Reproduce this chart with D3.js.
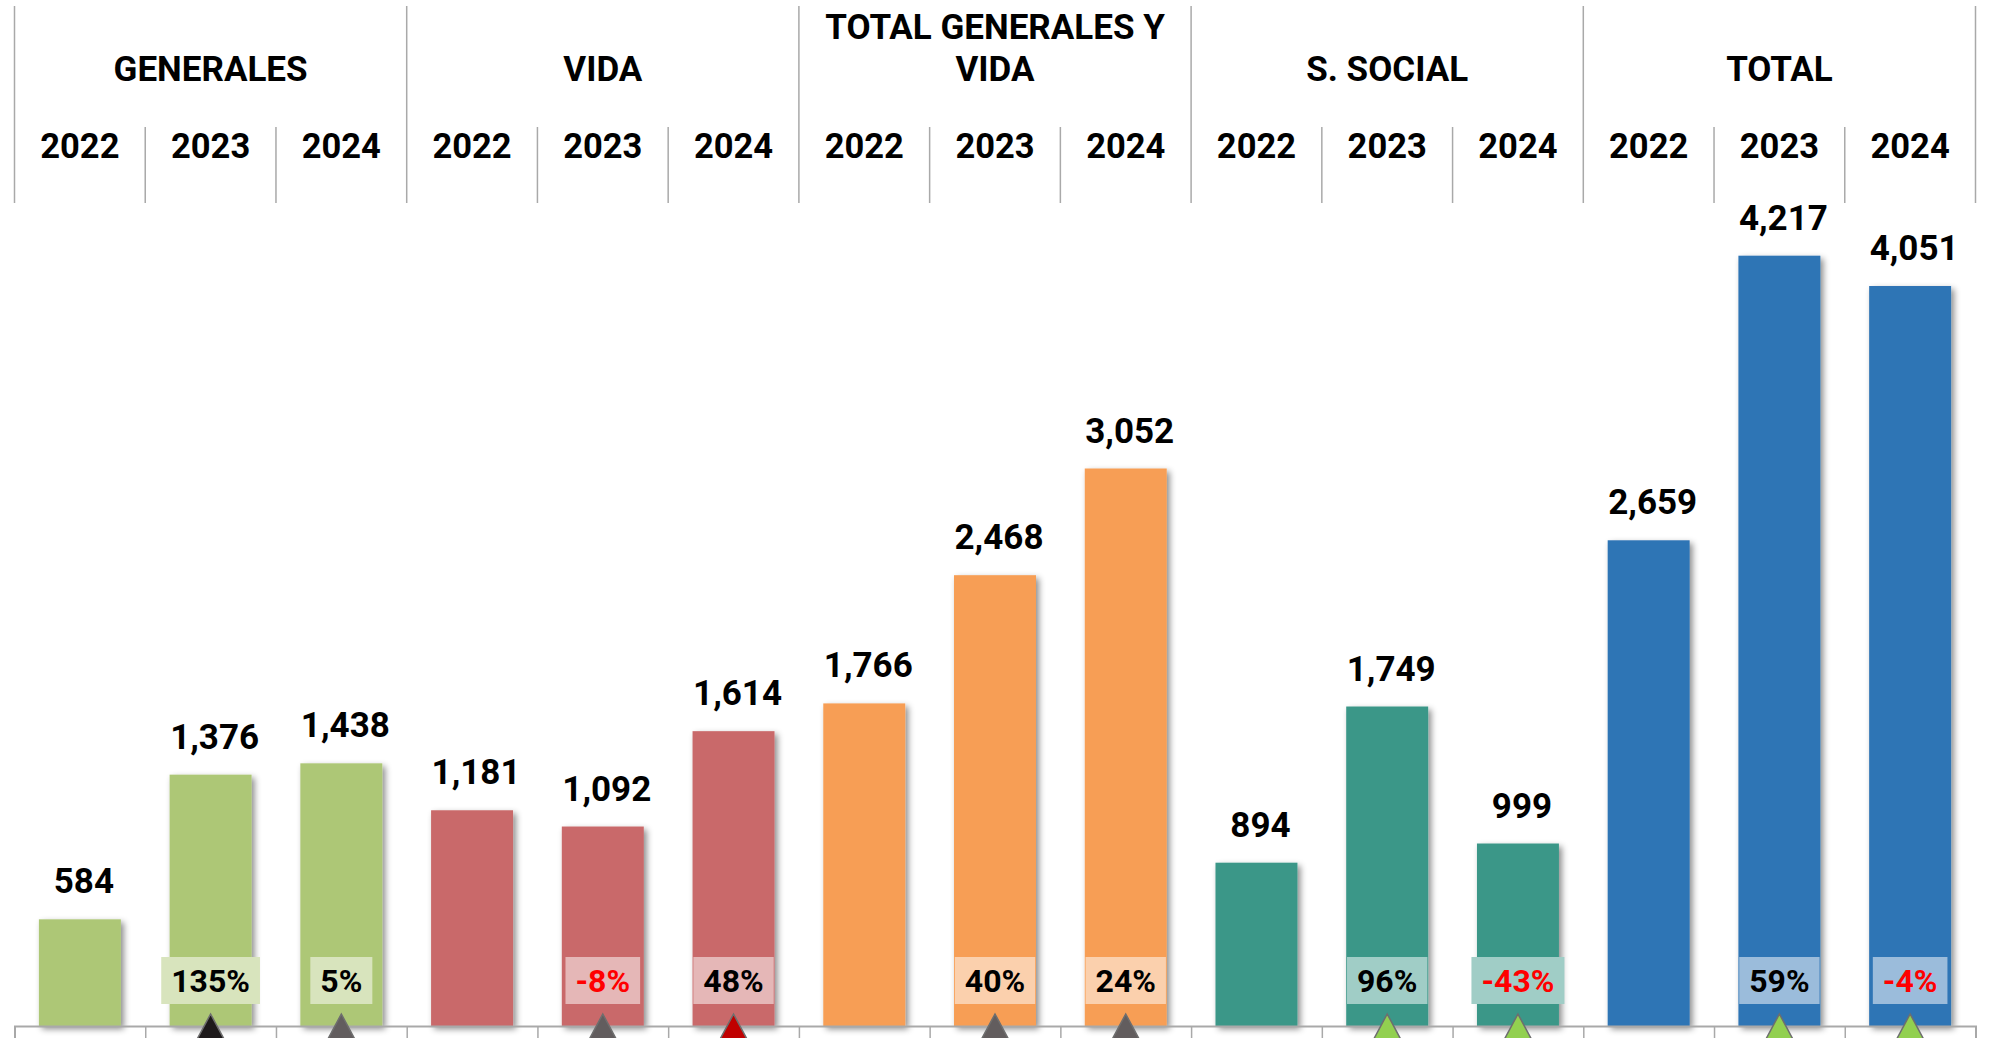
<!DOCTYPE html>
<html>
<head>
<meta charset="utf-8">
<script src="https://cdn.jsdelivr.net/npm/d3@7"></script>
<style>
  html, body { margin: 0; padding: 0; background: #fff; }
  svg { display: block; font-family: Roboto, "Noto Sans", sans-serif; font-weight: 700; }
</style>
</head>
<body>
<div id="chart"></div>
<script>
const width = 1989, height = 1038

// data
const groups = ["GENERALES", "VIDA", "TOTAL GENERALES Y VIDA", "S. SOCIAL", "TOTAL"]
const group_lines = [["GENERALES"], ["VIDA"], ["TOTAL GENERALES Y", "VIDA"], ["S. SOCIAL"], ["TOTAL"]]
const years = ["2022", "2023", "2024"]
const generales = [584, 1376, 1438]
const vida = [1181, 1092, 1614]
const total_gen_vida = [1766, 2468, 3052]
const s_social = [894, 1749, 999]
const total = [2659, 4217, 4051]
const series = [generales, vida, total_gen_vida, s_social, total]
// year-on-year change shown in the boxes (%)
const changes = [[null, 135, 5], [null, -8, 48], [null, 40, 24], [null, 96, -43], [null, 59, -4]]
// little arrows under the boxes
const arrow_colors = [
    [null, "#1e1a1b", "#625d5e"],
    [null, "#625d5e", "#c00000"],
    [null, "#625d5e", "#625d5e"],
    [null, "#92d050", "#92d050"],
    [null, "#92d050", "#92d050"],
]
const bar_colors = ["#adc776", "#c9696a", "#f79e54", "#3a9788", "#2e74b5"]

const rows = []
groups.forEach((g, gi) => {
    years.forEach((y, yi) => {
        rows.push({
            key: g + "|" + y, group: gi, year: y,
            value: series[gi][yi], change: changes[gi][yi],
            arrow: arrow_colors[gi][yi], color: bar_colors[gi]
        })
    })
})

const x0 = 14.5, x1 = 1975.5, base_y = 1026, top_y = 204

const x = d3.scaleBand()
    .domain(rows.map(d => d.key))
    .range([x0, x1])
    .paddingInner(0.373)
    .paddingOuter(0.1865)

const y = d3.scaleLinear()
    .domain([0, 4500])
    .range([base_y, top_y])

// boundaries between the columns
const xb = d3.scaleLinear().domain([0, rows.length]).range([x0, x1])

const svg = d3.select("#chart")
    .append("svg")
    .attr("width", width)
    .attr("height", height)

const defs = svg.append("defs")
const shadow = defs.append("filter")
    .attr("id", "shadow")
    .attr("x", "-20%").attr("y", "-5%")
    .attr("width", "150%").attr("height", "120%")
shadow.append("feDropShadow")
    .attr("dx", 3).attr("dy", 3)
    .attr("stdDeviation", 3)
    .attr("flood-color", "#000")
    .attr("flood-opacity", 0.45)

// header lines
const line_color = "#a9a9a9"
const header = svg.append("g").attr("class", "header")

d3.range(rows.length + 1).forEach(i => {
    const major = i % 3 === 0
    header.append("line")
        .attr("x1", xb(i)).attr("x2", xb(i))
        .attr("y1", major ? 6 : 127)
        .attr("y2", 203)
        .attr("stroke", line_color)
        .attr("stroke-width", 1.5)
})

group_lines.forEach((lines, gi) => {
    const cx = (xb(gi * 3) + xb(gi * 3 + 3)) / 2
    lines.forEach((t, li) => {
        header.append("text")
            .attr("x", cx)
            .attr("y", 81 - (lines.length - 1 - li) * 42)
            .attr("text-anchor", "middle")
            .attr("font-size", "35px")
            .attr("fill", "#000")
            .text(t)
    })
})

header.selectAll("text.year")
    .data(rows)
    .join("text")
    .attr("class", "year")
    .attr("x", d => x(d.key) + x.bandwidth() / 2)
    .attr("y", 158)
    .attr("text-anchor", "middle")
    .attr("font-size", "34.5px")
    .attr("fill", "#000")
    .text(d => d.year)

// bars
svg.append("g")
    .attr("class", "bars")
    .selectAll("rect")
    .data(rows)
    .join("rect")
    .attr("x", d => x(d.key))
    .attr("y", d => y(d.value))
    .attr("width", x.bandwidth())
    .attr("height", d => y(0) - y(d.value))
    .attr("fill", d => d.color)
    .attr("filter", "url(#shadow)")

// value labels
svg.append("g")
    .attr("class", "values")
    .selectAll("text")
    .data(rows)
    .join("text")
    .attr("x", d => x(d.key) + x.bandwidth() / 2 + 4)
    .attr("y", d => y(d.value) - 26)
    .attr("text-anchor", "middle")
    .attr("font-size", "35px")
    .attr("fill", "#000")
    .text(d => d3.format(",")(d.value))

// axis
const axis = svg.append("g")
    .attr("class", "axis")
    .attr("transform", `translate(0,${base_y})`)
    .call(d3.axisBottom(xb).tickValues(d3.range(rows.length + 1)).tickSize(14).tickFormat(""))
axis.select(".domain").attr("stroke", line_color).attr("stroke-width", 2)
axis.selectAll(".tick line").attr("stroke", line_color).attr("stroke-width", 1.5)

// change boxes
const ch = svg.append("g").attr("class", "changes")
rows.filter(d => d.change !== null).forEach(d => {
    const cx = x(d.key) + x.bandwidth() / 2
    const g = ch.append("g")
    const rect = g.append("rect")
    const txt = g.append("text")
        .attr("x", cx)
        .attr("y", 992)
        .attr("text-anchor", "middle")
        .attr("font-size", "32px")
        .attr("fill", d.change < 0 ? "#ff0000" : "#000")
        .text(d.change + "%")
    const w = txt.node().getComputedTextLength() + 20
    rect.attr("x", cx - w / 2)
        .attr("y", 957)
        .attr("width", w)
        .attr("height", 47)
        .attr("fill", d3.interpolateRgb(d.color, "#fff")(0.52))
})

// arrows
svg.append("g")
    .attr("class", "arrows")
    .selectAll("path")
    .data(rows.filter(d => d.arrow))
    .join("path")
    .attr("d", d => {
        const cx = x(d.key) + x.bandwidth() / 2
        return `M${cx},1014 L${cx + 15},1042 L${cx - 15},1042 Z`
    })
    .attr("fill", d => d.arrow)
    .attr("stroke", "#6e6e6e")
    .attr("stroke-width", 1.5)
</script>
</body>
</html>
